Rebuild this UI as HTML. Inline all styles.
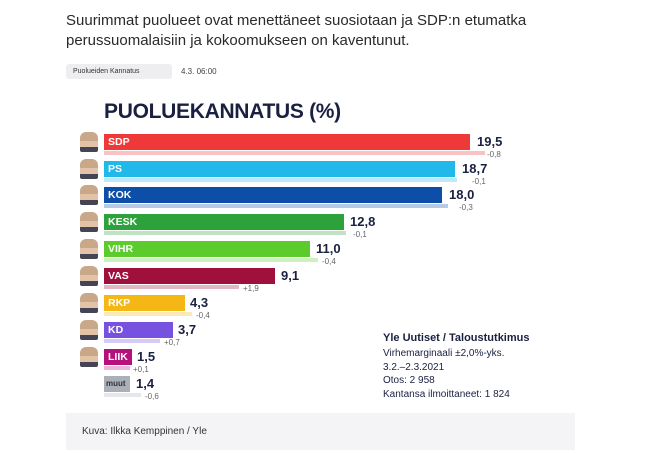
<!DOCTYPE html>
<html><head><meta charset="utf-8"><style>
*{margin:0;padding:0;box-sizing:border-box}
body{width:650px;height:453px;background:#fff;position:relative;overflow:hidden;font-family:"Liberation Sans","DejaVu Sans",sans-serif}
.a{position:absolute;white-space:nowrap}
.bar{position:absolute;height:16px;left:104px}
.prev{position:absolute;height:4px;left:104px;opacity:.3}
.lab{position:absolute;left:108px;color:#fff;font-weight:bold;font-size:10.5px;line-height:16px}
.val{position:absolute;font-weight:bold;font-size:13px;color:#1a2040;line-height:16px}
.ch{position:absolute;font-size:8px;color:#666}
.face{position:absolute;left:80px;width:18px;height:20px;border-radius:6px 6px 2px 2px;background:linear-gradient(#c9a88a 0 45%,#e2c3a8 45% 75%,#445 75%)}
</style></head><body>
<div class="a" style="left:66px;top:11px;font-size:15px;line-height:20px;color:#2a2a2a">Suurimmat puolueet ovat menettäneet suosiotaan ja SDP:n etumatka<br>perussuomalaisiin ja kokoomukseen on kaventunut.</div>
<div class="a" style="left:66px;top:64px;width:106px;height:15px;background:#eeeef0;border-radius:3px;font-size:7px;line-height:15px;padding-left:7px;color:#333">Puolueiden Kannatus</div>
<div class="a" style="left:181px;top:64px;font-size:8px;line-height:15px;color:#444">4.3. 06:00</div>
<div class="a" style="left:104px;top:100px;font-size:21px;font-weight:bold;color:#1a2040;letter-spacing:-0.3px">PUOLUEKANNATUS (%)</div>

<div class="face" style="top:132px"></div><div class="bar" style="top:134px;width:366px;background:#ef3838"></div><div class="prev" style="top:151px;width:381px;background:#ef3838"></div><div class="lab" style="top:134px">SDP</div><div class="val" style="left:477px;top:134px">19,5</div><div class="ch" style="left:487px;top:150px">-0,8</div>
<div class="face" style="top:159px"></div><div class="bar" style="top:161px;width:351px;background:#20b9ea"></div><div class="prev" style="top:178px;width:353px;background:#20b9ea"></div><div class="lab" style="top:161px">PS</div><div class="val" style="left:462px;top:161px">18,7</div><div class="ch" style="left:472px;top:177px">-0,1</div>
<div class="face" style="top:185px"></div><div class="bar" style="top:187px;width:338px;background:#0d4fa8"></div><div class="prev" style="top:204px;width:344px;background:#0d4fa8"></div><div class="lab" style="top:187px">KOK</div><div class="val" style="left:449px;top:187px">18,0</div><div class="ch" style="left:459px;top:203px">-0,3</div>
<div class="face" style="top:212px"></div><div class="bar" style="top:214px;width:240px;background:#2ea23a"></div><div class="prev" style="top:231px;width:242px;background:#2ea23a"></div><div class="lab" style="top:214px">KESK</div><div class="val" style="left:350px;top:214px">12,8</div><div class="ch" style="left:353px;top:230px">-0,1</div>
<div class="face" style="top:239px"></div><div class="bar" style="top:241px;width:206px;background:#5ccc2d"></div><div class="prev" style="top:258px;width:214px;background:#5ccc2d"></div><div class="lab" style="top:241px">VIHR</div><div class="val" style="left:316px;top:241px">11,0</div><div class="ch" style="left:322px;top:257px">-0,4</div>
<div class="face" style="top:266px"></div><div class="bar" style="top:268px;width:171px;background:#a0103c"></div><div class="prev" style="top:285px;width:135px;background:#a0103c"></div><div class="lab" style="top:268px">VAS</div><div class="val" style="left:281px;top:268px">9,1</div><div class="ch" style="left:243px;top:284px">+1,9</div>
<div class="face" style="top:293px"></div><div class="bar" style="top:295px;width:81px;background:#f5b715"></div><div class="prev" style="top:312px;width:88px;background:#f5b715"></div><div class="lab" style="top:295px">RKP</div><div class="val" style="left:190px;top:295px">4,3</div><div class="ch" style="left:196px;top:311px">-0,4</div>
<div class="face" style="top:320px"></div><div class="bar" style="top:322px;width:69px;background:#7752e0"></div><div class="prev" style="top:339px;width:56px;background:#7752e0"></div><div class="lab" style="top:322px">KD</div><div class="val" style="left:178px;top:322px">3,7</div><div class="ch" style="left:164px;top:338px">+0,7</div>
<div class="face" style="top:347px"></div><div class="bar" style="top:349px;width:28px;background:#b5107c"></div><div class="prev" style="top:366px;width:26px;background:#b5107c"></div><div class="lab" style="top:349px">LIIK</div><div class="val" style="left:137px;top:349px">1,5</div><div class="ch" style="left:133px;top:365px">+0,1</div>
<div class="bar" style="top:376px;width:26px;background:#a9b0b8"></div><div class="prev" style="top:393px;width:37px;background:#a9b0b8"></div><div class="lab" style="top:376px;color:#333;font-size:8px;left:106px">muut</div><div class="val" style="left:136px;top:376px">1,4</div><div class="ch" style="left:145px;top:392px">-0,6</div>

<div class="a" style="left:383px;top:332px;font-size:11px;font-weight:bold;color:#1a2040">Yle Uutiset / Taloustutkimus</div>
<div class="a" style="left:383px;top:347px;font-size:10px;line-height:13.5px;color:#1a2040">Virhemarginaali ±2,0%-yks.<br>3.2.–2.3.2021<br>Otos: 2 958<br>Kantansa ilmoittaneet: 1 824</div>

<div class="a" style="left:66px;top:413px;width:509px;height:37px;background:#f4f4f6"></div>
<div class="a" style="left:82px;top:426px;font-size:10px;color:#333">Kuva: Ilkka Kemppinen / Yle</div>
</body></html>
